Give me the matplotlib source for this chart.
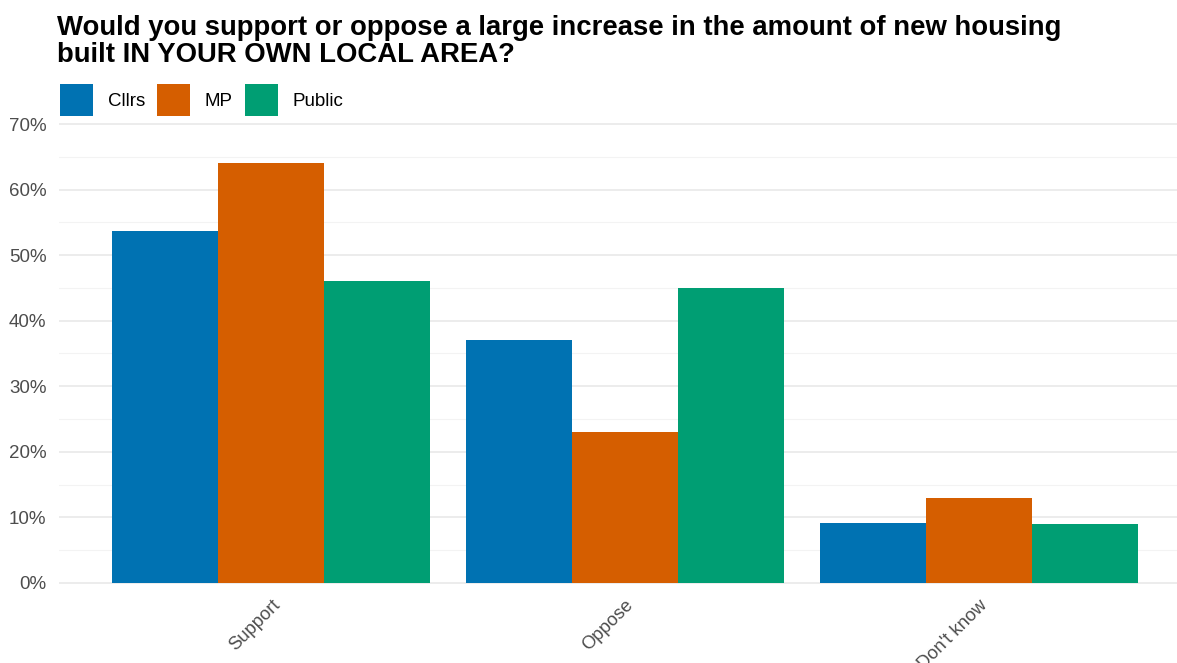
import numpy as np
import matplotlib.pyplot as plt
from matplotlib.patches import Patch
from matplotlib.ticker import MultipleLocator, FuncFormatter

plt.rcParams['font.family'] = ['Liberation Sans', 'DejaVu Sans']

# Data
categories = ["Support", "Oppose", "Don't know"]
groups = ["Cllrs", "MP", "Public"]
cllrs = [53.7, 37.0, 9.2]
mp = [64.0, 23.0, 13.0]
public = [46.0, 45.0, 9.0]
colours = ["#0072B2", "#D55E00", "#009E73"]

fig = plt.figure(figsize=(11.77, 6.63), dpi=100)
ax = fig.add_axes([59 / 1177, 0.1059, 1 - 59 / 1177, 0.8278 - 0.1059])

x = np.arange(1, len(categories) + 1)
w = 0.3
for i, (vals, c) in enumerate(zip([cllrs, mp, public], colours)):
    ax.bar(x + (i - 1) * w, vals, width=w, color=c, zorder=3)

ax.set_xlim(0.4, 3.56)
ax.set_ylim(-1.5, 71.5)
ax.yaxis.set_major_locator(MultipleLocator(10))
ax.yaxis.set_minor_locator(MultipleLocator(5))
ax.yaxis.set_major_formatter(FuncFormatter(lambda v, p: f"{v:.0f}%"))
ax.grid(axis='y', which='major', color='#EBEBEB', lw=1.3, zorder=0)
ax.grid(axis='y', which='minor', color='#F3F3F3', lw=0.8, zorder=0)
ax.set_axisbelow(True)
for s in ax.spines.values():
    s.set_visible(False)
ax.tick_params(which='both', length=0)
ax.tick_params(axis='y', labelsize=13.5, labelcolor='#4D4D4D', pad=9)

ax.set_xticks(x)
ax.set_xticklabels(categories, rotation=45, ha='right', va='top',
                   rotation_mode='anchor', fontsize=13.2, color='#4D4D4D')
ax.tick_params(axis='x', pad=3)

fig.text(57 / 1177, 1 - 15 / 663,
         "Would you support or oppose a large increase in the amount of new housing\n"
         "built IN YOUR OWN LOCAL AREA?",
         fontsize=19.8, fontweight='bold', va='top', ha='left', linespacing=1.05)

handles = [Patch(facecolor=c, label=g) for g, c in zip(groups, colours)]
fig.legend(handles=handles, loc='center left', bbox_to_anchor=(43 / 1177, 1 - 100 / 663),
           ncol=3, frameon=False, fontsize=13.5, handlelength=1.75, handleheight=2.3,
           handletextpad=0.8, columnspacing=0.65)

fig.savefig("out.png", dpi=100)
